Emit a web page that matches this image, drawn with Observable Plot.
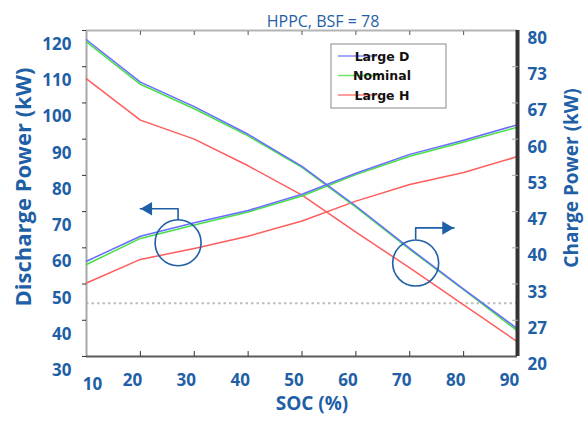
<!DOCTYPE html>
<html><head><meta charset="utf-8">
<script src="https://cdn.jsdelivr.net/npm/d3@7"></script>
<script src="https://cdn.jsdelivr.net/npm/@observablehq/plot@0.6"></script>
<style>body{margin:0;background:#fff}</style>
</head><body><div id="chart"></div>
<script>
// ---- data ----
const soc = [10, 20, 30, 40, 50, 60, 70, 80, 90];
const seriesNames = ["Large D", "Nominal", "Large H"];
const seriesColors = ["#6a6aff", "#46e046", "#ff5c5c"];
// discharge power, left axis (kW)
const dischargeLargeD = [56.3, 63.2, 66.9, 70.3, 74.8, 80.6, 85.8, 89.7, 94.0];
const dischargeNominal = [55.4, 62.6, 66.3, 69.9, 74.3, 80.2, 85.3, 89.2, 93.3];
const dischargeLargeH = [50.3, 56.8, 59.8, 63.2, 67.4, 72.9, 77.5, 80.8, 85.2];
// charge power, right axis (kW)
const chargeLargeD = [78.3, 70.5, 66.0, 60.9, 55.0, 47.7, 39.9, 32.4, 25.1];
const chargeNominal = [77.9, 70.1, 65.6, 60.6, 54.8, 47.5, 39.7, 32.3, 24.7];
const chargeLargeH = [71.1, 63.5, 60.0, 55.1, 49.7, 42.9, 36.3, 29.5, 22.7];
const leftTicks = [30, 40, 50, 60, 70, 80, 90, 100, 110, 120];
const rightTickLabels = [20, 27, 33, 40, 47, 53, 60, 67, 73, 80];
const chargeLimit = 29.8; // dotted reference level (charge kW)
// callouts: circle centre (soc, kw), circle top, stem top level, arrow tip soc, direction
const callouts = [
  {id: "a", soc: 27.0, kw: 61.4, top: 67.8, stemTop: 70.8, tip: 20.0, dir: -1},
  {id: "b", soc: 71.1, kw: 55.8, top: 62.5, stemTop: 65.5, tip: 78.2, dir: 1}
];

const blue = "#1f5fa6";
const font = "Open Sans";
// right axis: charge kW -> left-axis units
const toLeft = c => 30 + (c - 20) * 1.5;

const rows = [];
const dis = [dischargeLargeD, dischargeNominal, dischargeLargeH];
const chg = [chargeLargeD, chargeNominal, chargeLargeH];
const order = [2, 1, 0];
for (const s of order) {
  soc.forEach((x, i) => rows.push({soc: x, y: dis[s][i], series: seriesNames[s], key: "d" + s}));
  soc.forEach((x, i) => rows.push({soc: x, y: toLeft(chg[s][i]), series: seriesNames[s], key: "c" + s}));
}
const calloutPath = callouts.flatMap(d => [
  {id: d.id, soc: d.soc, kw: d.top},
  {id: d.id, soc: d.soc, kw: d.stemTop},
  {id: d.id, soc: d.tip, kw: d.stemTop}
]);

function legendMark(index, scales, values, dimensions) {
  const g = d3.create("svg:g");
  const x0 = dimensions.marginLeft + 245, y0 = dimensions.marginTop + 14;
  g.append("rect").attr("x", x0).attr("y", y0).attr("width", 115).attr("height", 64)
    .attr("fill", "#fff").attr("stroke", "#8a8a8a").attr("stroke-width", 1);
  seriesNames.forEach((name, i) => {
    const cy = y0 + 12 + i * 19.5;
    g.append("line").attr("x1", x0 + 7).attr("x2", x0 + 46).attr("y1", cy).attr("y2", cy)
      .attr("stroke", seriesColors[i]).attr("stroke-width", 1.5).attr("stroke-opacity", 0.8);
    g.append("text").attr("x", x0 + 51).attr("y", cy).attr("dy", "0.36em")
      .attr("font-family", "DejaVu Sans").attr("font-weight", "bold").attr("font-size", 12.5)
      .attr("fill", "#111").text(name);
  });
  return g.node();
}

const labelStyle = {fontSize: 17, fontWeight: "bold", fill: blue, fontFamily: font, label: null};

const chart = Plot.plot({
  width: 585, height: 421,
  marginLeft: 86, marginRight: 68, marginTop: 30, marginBottom: 65,
  style: {fontFamily: font, background: "#fff"},
  x: {domain: [10, 90]},
  y: {domain: [30, 120]},
  color: {domain: seriesNames, range: seriesColors},
  marks: [
    Plot.ruleY([toLeft(chargeLimit)], {stroke: "#bdbdbd", strokeWidth: 2, strokeDasharray: "2.5,3"}),
    Plot.ruleX([10], {stroke: "#a8a8a8", strokeWidth: 2}),
    Plot.ruleY([120], {stroke: "#b4b4b4", strokeWidth: 2}),
    Plot.ruleY([30], {stroke: "#5a5a5a", strokeWidth: 2}),
    Plot.line(rows, {x: "soc", y: "y", z: "key", stroke: "series", strokeWidth: 1.5}),
    Plot.line(calloutPath, {x: "soc", y: "kw", z: "id", stroke: blue, strokeWidth: 1.6}),
    Plot.dot(callouts, {x: "soc", y: "kw", r: 23, stroke: blue, strokeWidth: 1.6, fill: "none"}),
    Plot.dot(callouts.filter(d => d.dir < 0), {x: "tip", y: "stemTop", symbol: "triangle", r: 5, rotate: -90, dx: 7.8, fill: blue, stroke: "none"}),
    Plot.dot(callouts.filter(d => d.dir > 0), {x: "tip", y: "stemTop", symbol: "triangle", r: 5, rotate: 90, dx: -7.8, fill: blue, stroke: "none"}),
    Plot.ruleX([90], {stroke: "#333", strokeWidth: 4}),
    // left axis
    Plot.axisY({ticks: leftTicks, anchor: "left", tickSize: 4, stroke: "#333", tickFormat: () => "", label: null}),
    Plot.axisY({ticks: leftTicks, anchor: "left", tickSize: 0, tickPadding: 15, dy: 14, ...labelStyle}),
    // right axis
    Plot.axisY({ticks: leftTicks.slice(1, -1), anchor: "right", tickSize: -6, stroke: "#aaa", tickFormat: () => "", label: null}),
    Plot.axisY({ticks: leftTicks, anchor: "right", tickSize: 0, tickPadding: 10, dy: 8,
      tickFormat: d => String(rightTickLabels[leftTicks.indexOf(d)]), ...labelStyle}),
    // top / bottom ticks
    Plot.axisX({ticks: soc.slice(1, -1), anchor: "top", tickSize: -4, stroke: "#555", tickFormat: () => "", label: null}),
    Plot.axisX({ticks: soc.slice(1, -1), anchor: "bottom", tickSize: -5, stroke: "#333", tickFormat: () => "", label: null}),
    Plot.axisX({ticks: soc.slice(1), anchor: "bottom", tickSize: 0, tickPadding: 17, dx: -8, ...labelStyle}),
    Plot.axisX({ticks: soc.slice(0, 1), anchor: "bottom", tickSize: 0, tickPadding: 21, dx: 6, ...labelStyle}),
    // titles
    Plot.text(["HPPC, BSF = 78"], {text: d => d, frameAnchor: "top", dy: -15, dx: 21, fontSize: 16, fill: blue, fontFamily: font}),
    Plot.text(["Discharge Power (kW)"], {text: d => d, frameAnchor: "left", textAnchor: "middle", rotate: -90, dx: -63, dy: -6.5, fontSize: 22, fontWeight: "bold", fill: blue, fontFamily: font}),
    Plot.text(["Charge Power (kW)"], {text: d => d, frameAnchor: "right", textAnchor: "middle", rotate: -90, dx: 54, dy: -15.5, fontSize: 19, fontWeight: "bold", fill: blue, fontFamily: font}),
    Plot.text(["SOC (%)"], {text: d => d, frameAnchor: "bottom", dy: 53, dx: 10, fontSize: 19, fontWeight: "bold", fill: blue, fontFamily: font}),
    legendMark
  ]
});
document.getElementById("chart").appendChild(chart);
</script>
</body></html>
